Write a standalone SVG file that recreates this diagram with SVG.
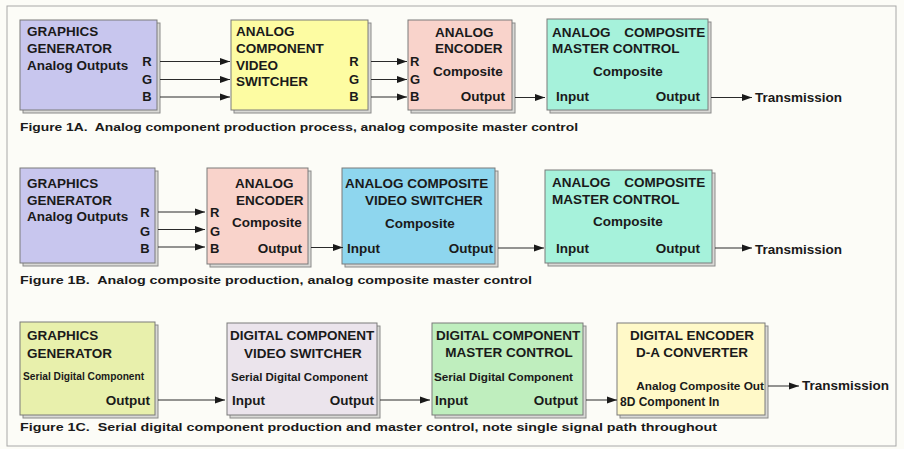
<svg xmlns="http://www.w3.org/2000/svg" width="904" height="449" viewBox="0 0 904 449">
<defs>
<marker id="ah" markerWidth="10" markerHeight="8" refX="10" refY="4" orient="auto" markerUnits="userSpaceOnUse">
<path d="M0,0.5 L10,4 L0,7.5 z" fill="#1a1a1a"/>
</marker>
<style>
text{font-family:"Liberation Sans",Arial,sans-serif;font-weight:bold;fill:#1a1a1a}
.t{font-size:13.5px}
.p{font-size:13px}
.cap{font-size:11px}
.sh{fill:#d9d9d6;stroke:#8a8a8a;stroke-width:1}
.bx{stroke:#7a7a7a;stroke-width:1}
.c line{stroke:#2a2a2a;stroke-width:1;marker-end:url(#ah)}
.e{text-anchor:end}
.m{text-anchor:middle}
</style>
</defs>
<rect x="0" y="0" width="904" height="449" fill="#fcfcf7"/>
<rect x="7" y="6" width="889" height="440" fill="none" stroke="#a8a8a8" stroke-width="1"/>

<!-- Row 1 -->
<g id="r1-graphics">
<rect class="sh" x="23" y="23" width="137" height="90"/>
<rect class="bx" x="20" y="20" width="137" height="90" fill="#c8c6ee"/>
<text class="t" x="27" y="36">GRAPHICS</text>
<text class="t" x="27" y="53">GENERATOR</text>
<text class="t" x="27" y="70">Analog Outputs</text>
<text class="p m" x="147" y="66">R</text>
<text class="p m" x="147" y="84">G</text>
<text class="p m" x="147" y="101">B</text>
</g>
<g id="r1-switcher">
<rect class="sh" x="234" y="23" width="137" height="90"/>
<rect class="bx" x="231" y="20" width="137" height="90" fill="#fdfca2"/>
<text class="t" x="236" y="36">ANALOG</text>
<text class="t" x="236" y="53">COMPONENT</text>
<text class="t" x="236" y="70">VIDEO</text>
<text class="t" x="236" y="86">SWITCHER</text>
<text class="p m" x="354" y="66">R</text>
<text class="p m" x="354" y="84">G</text>
<text class="p m" x="354" y="101">B</text>
</g>
<g id="r1-encoder">
<rect class="sh" x="411" y="23" width="104" height="90"/>
<rect class="bx" x="408" y="20" width="104" height="90" fill="#f9d3cb"/>
<text class="p" x="410" y="66">R</text>
<text class="p" x="410" y="84">G</text>
<text class="p" x="410" y="101">B</text>
<text class="t" x="435" y="37">ANALOG</text>
<text class="t" x="435" y="53">ENCODER</text>
<text class="t" x="433" y="76">Composite</text>
<text class="t e" x="505" y="101">Output</text>
</g>
<g id="r1-master">
<rect class="sh" x="550" y="22" width="161" height="91"/>
<rect class="bx" x="547" y="19" width="161" height="91" fill="#a6f2db"/>
<text class="t" x="552" y="37" word-spacing="10">ANALOG COMPOSITE</text>
<text class="t" x="552" y="53">MASTER CONTROL</text>
<text class="t m" x="628" y="76">Composite</text>
<text class="t" x="556" y="101">Input</text>
<text class="t e" x="700" y="101">Output</text>
</g>
<text class="t" x="755" y="102">Transmission</text>
<text class="cap" x="20" y="131" xml:space="preserve" textLength="558" lengthAdjust="spacingAndGlyphs">Figure 1A.  Analog component production process, analog composite master control</text>

<!-- Row 2 -->
<g id="r2-graphics">
<rect class="sh" x="23" y="171" width="135" height="95"/>
<rect class="bx" x="20" y="168" width="135" height="95" fill="#c8c6ee"/>
<text class="t" x="27" y="188">GRAPHICS</text>
<text class="t" x="27" y="205">GENERATOR</text>
<text class="t" x="27" y="221">Analog Outputs</text>
<text class="p m" x="145" y="217">R</text>
<text class="p m" x="145" y="236">G</text>
<text class="p m" x="145" y="253">B</text>
</g>
<g id="r2-encoder">
<rect class="sh" x="210" y="171" width="101" height="96"/>
<rect class="bx" x="207" y="168" width="101" height="96" fill="#f9d3cb"/>
<text class="p" x="210" y="217">R</text>
<text class="p" x="210" y="236">G</text>
<text class="p" x="210" y="253">B</text>
<text class="t" x="235" y="188">ANALOG</text>
<text class="t" x="236" y="205">ENCODER</text>
<text class="t" x="232" y="227">Composite</text>
<text class="t e" x="302" y="253">Output</text>
</g>
<g id="r2-switcher">
<rect class="sh" x="345" y="171" width="153" height="96"/>
<rect class="bx" x="342" y="168" width="153" height="96" fill="#8ed6ee"/>
<text class="t" x="345" y="188">ANALOG COMPOSITE</text>
<text class="t m" x="424" y="205">VIDEO SWITCHER</text>
<text class="t m" x="420" y="228">Composite</text>
<text class="t" x="347" y="253">Input</text>
<text class="t e" x="493" y="253">Output</text>
</g>
<g id="r2-master">
<rect class="sh" x="548" y="173" width="167" height="93"/>
<rect class="bx" x="545" y="170" width="167" height="93" fill="#a6f2db"/>
<text class="t" x="552" y="187" word-spacing="10">ANALOG COMPOSITE</text>
<text class="t" x="552" y="204">MASTER CONTROL</text>
<text class="t m" x="628" y="226">Composite</text>
<text class="t" x="556" y="253">Input</text>
<text class="t e" x="700" y="253">Output</text>
</g>
<text class="t" x="755" y="254">Transmission</text>
<text class="cap" x="20" y="284" xml:space="preserve" textLength="512" lengthAdjust="spacingAndGlyphs">Figure 1B.  Analog composite production, analog composite master control</text>

<!-- Row 3 -->
<g id="r3-graphics">
<rect class="sh" x="23" y="325" width="135" height="93"/>
<rect class="bx" x="20" y="322" width="135" height="93" fill="#e8f0ac"/>
<text class="t" x="27" y="340">GRAPHICS</text>
<text class="t" x="27" y="358">GENERATOR</text>
<text x="23" y="380" font-size="10.2">Serial Digital Component</text>
<text class="t e" x="150" y="405">Output</text>
</g>
<g id="r3-switcher">
<rect class="sh" x="230" y="326" width="150" height="92"/>
<rect class="bx" x="227" y="323" width="150" height="92" fill="#ebe4ec"/>
<text class="t" x="230" y="340">DIGITAL COMPONENT</text>
<text class="t m" x="303" y="358">VIDEO SWITCHER</text>
<text x="231" y="381" font-size="11.5">Serial Digital Component</text>
<text class="t" x="232" y="405">Input</text>
<text class="t e" x="374" y="405">Output</text>
</g>
<g id="r3-master">
<rect class="sh" x="435" y="326" width="151" height="92"/>
<rect class="bx" x="432" y="323" width="151" height="92" fill="#bfeebe"/>
<text class="t" x="436" y="340">DIGITAL COMPONENT</text>
<text class="t m" x="509" y="357">MASTER CONTROL</text>
<text x="434" y="381" font-size="11.7">Serial Digital Component</text>
<text class="t" x="435" y="405">Input</text>
<text class="t e" x="578" y="405">Output</text>
</g>
<g id="r3-encoder">
<rect class="sh" x="620" y="326" width="148" height="92"/>
<rect class="bx" x="617" y="323" width="148" height="92" fill="#fff9c8"/>
<text class="t m" x="692" y="340">DIGITAL ENCODER</text>
<text class="t m" x="692" y="357">D-A CONVERTER</text>
<text class="e" x="764" y="390" font-size="11.8">Analog Composite Out</text>
<text x="620" y="406" font-size="12">8D Component In</text>
</g>
<text class="t" x="802" y="390">Transmission</text>
<text class="cap" x="20" y="431" xml:space="preserve" textLength="697" lengthAdjust="spacingAndGlyphs">Figure 1C.  Serial digital component production and master control, note single signal path throughout</text>

<g id="connectors" class="c">
<line x1="160" y1="61.5" x2="230" y2="61.5"/>
<line x1="160" y1="79.5" x2="230" y2="79.5"/>
<line x1="160" y1="97" x2="230" y2="97"/>
<line x1="371" y1="61.5" x2="407" y2="61.5"/>
<line x1="371" y1="79.5" x2="407" y2="79.5"/>
<line x1="371" y1="97" x2="407" y2="97"/>
<line x1="515" y1="97.5" x2="545" y2="97.5"/>
<line x1="711" y1="97.5" x2="752" y2="97.5"/>
<line x1="158" y1="212" x2="205" y2="212"/>
<line x1="158" y1="229.5" x2="205" y2="229.5"/>
<line x1="158" y1="247" x2="205" y2="247"/>
<line x1="311" y1="247.5" x2="343" y2="247.5"/>
<line x1="498" y1="248" x2="544" y2="248"/>
<line x1="715" y1="248" x2="752" y2="248"/>
<line x1="158" y1="400" x2="225" y2="400"/>
<line x1="380" y1="400" x2="430" y2="400"/>
<line x1="586" y1="400" x2="617" y2="400"/>
<line x1="768" y1="386" x2="799" y2="386"/>
</g>
</svg>
